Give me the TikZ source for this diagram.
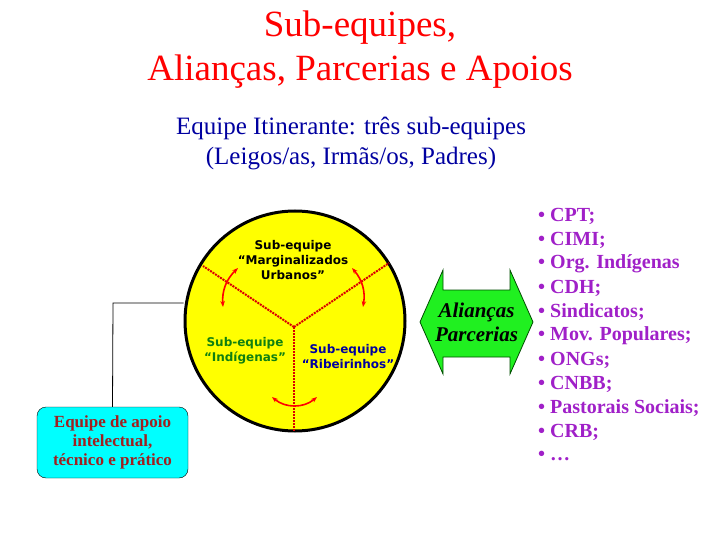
\documentclass[tikz,border=0pt]{standalone}
\usepackage{fontspec}
\setmainfont{Liberation Serif}
\newfontfamily\sanb{DejaVu Sans}
\usetikzlibrary{arrows.meta}
\definecolor{lilac}{HTML}{A020C8}
\definecolor{boxred}{HTML}{A02020}
\definecolor{dgreen}{HTML}{108010}
\definecolor{dblue}{HTML}{0000A0}
\definecolor{cy}{HTML}{00FFFF}
\definecolor{gr}{HTML}{20F020}
\definecolor{yl}{HTML}{FFFF00}
\tikzset{
  ttl/.style={font=\fontsize{37}{40}\selectfont, text=red, align=center},
  sub/.style={font=\fontsize{25}{28}\selectfont, text=dblue, align=center},
  inner/.style={font=\sanb\bfseries\fontsize{12}{15}\selectfont, align=center, inner sep=0pt},
  item/.style={font=\bfseries\fontsize{20}{22}\selectfont, text=lilac, anchor=west, inner sep=0pt},
  ydiv/.style={red!85!black, line width=2pt, dash pattern=on 2pt off 1pt},
  swing/.style={red, line width=1.6pt, {Stealth[length=6pt]}-{Stealth[length=6pt]}},
}
\begin{document}
\begin{tikzpicture}[x=1pt,y=-1pt]
\useasboundingbox (0,0) rectangle (720,540);
\node[ttl] (t1) at (360,28) {Sub-equipes,};
\node[ttl] (t2) at (360,72) {Alianças, Parcerias e Apoios};
\node[sub] (s1) at (351,128) {Equipe Itinerante: três sub-equipes};
\node[sub] (s2) at (351,159) {(Leigos/as, Irmãs/os, Padres)};
% circle
\node[draw=black, line width=3pt, fill=yl, circle, minimum size=220pt, inner sep=0pt] (c) at (295,321) {};
\coordinate (yc) at (294,327);
\coordinate (ya) at (203,266);
\coordinate (yb) at (389,263);
\coordinate (yd) at (294,431);
\draw[ydiv] (yc) -- (ya);
\draw[ydiv] (yc) -- (yb);
\draw[ydiv] (yc) -- (yd);
\coordinate (a1) at (238,268); \coordinate (a2) at (223,307);
\draw[swing] (a1) to[bend right=25] (a2);
\coordinate (b1) at (352,268); \coordinate (b2) at (363,307);
\draw[swing] (b1) to[bend left=25] (b2);
\coordinate (d1) at (272,397); \coordinate (d2) at (317,397);
\draw[swing] (d1) to[bend right=40] (d2);
\node[inner] (m) at (293,260) {Sub-equipe\\“Marginalizados\\Urbanos”};
\node[inner, text=dgreen] (ig) at (245,351) {Sub-equipe\\“Indígenas”};
\node[inner, text=dblue] (rb) at (348,357) {Sub-equipe\\“Ribeirinhos”};
% box
\node[draw=black, fill=cy, rounded corners=9pt, minimum width=151pt, minimum height=71pt, align=center, text=boxred,
  font=\bfseries\fontsize{17}{19}\selectfont, inner sep=2pt] (bx) at (112.5,442.5) {Equipe de apoio\\intelectual,\\técnico e prático};
\coordinate (bend) at (113,303);
\draw[black, line width=0.8pt] (bx.north) -- (bend) -- (c.west |- bend);
% double arrow
\draw[draw=black!70!green, fill=gr, line width=0.8pt]
  (420,322) -- (443,270) -- (443,290) -- (510,290) -- (510,270) -- (533,322)
  -- (510,374) -- (510,357) -- (443,357) -- (443,374) -- cycle;
\node[font=\itshape\bfseries\fontsize{21}{24}\selectfont, align=center, inner sep=0pt] (al) at (476.5,322) {Alianças\\Parcerias};
% list
\foreach \t [count=\i] in {CPT;,CIMI;,Org. Indígenas,CDH;,Sindicatos;,Mov. Populares;,ONGs;,CNBB;,Pastorais Sociais;,CRB;}
  \node[item] (li\i) at (538,{216+(\i-1)*24}) {\textbullet\ \t};
\node[item] (li11) at (538,456) {\textbullet\ \ldots};
\end{tikzpicture}
\end{document}
